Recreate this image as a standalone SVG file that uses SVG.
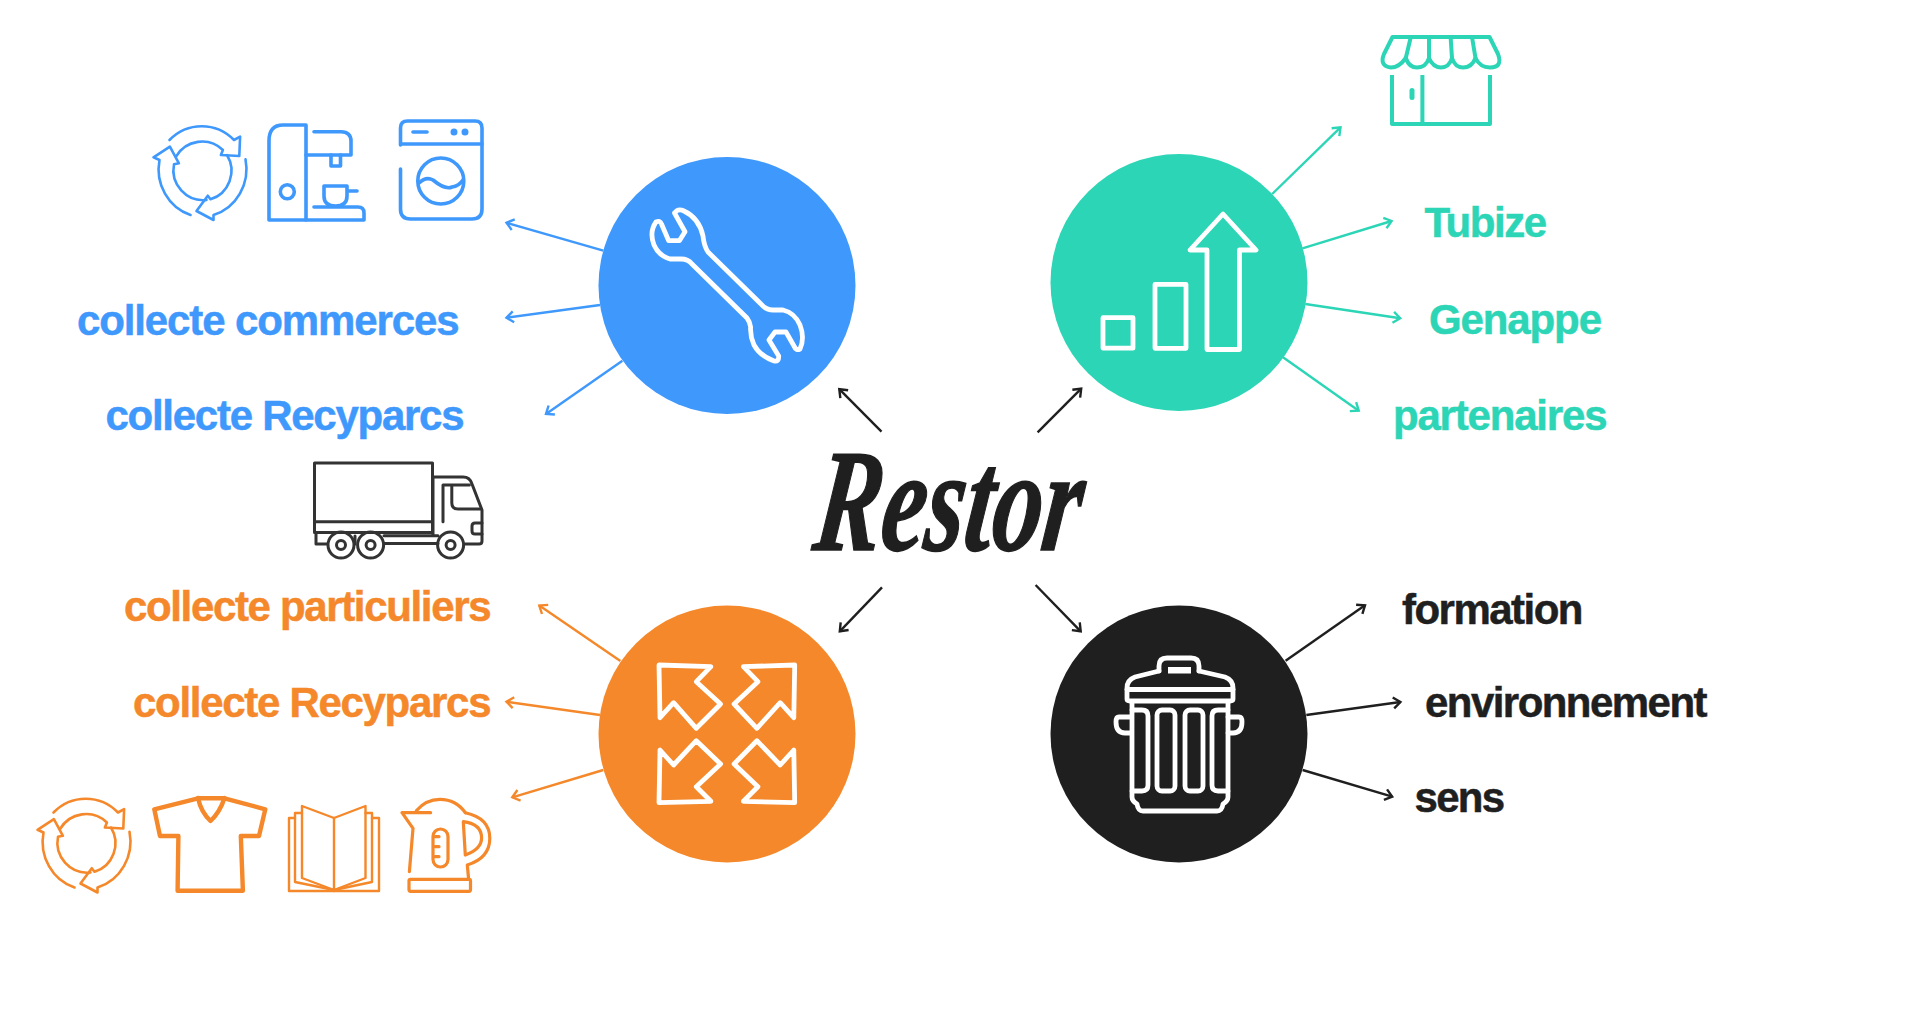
<svg xmlns="http://www.w3.org/2000/svg" xmlns:xlink="http://www.w3.org/1999/xlink" width="1920" height="1020" viewBox="0 0 1920 1020">
<style>
text{font-family:"Liberation Sans",Arial,sans-serif;font-weight:700;font-size:42px;stroke-width:.5}
.blue{fill:#3f98fc}.green{fill:#2cd5b6}.orange{fill:#f4882a}.black{fill:#1f1f1f}
text.blue{stroke:#3f98fc}text.green{stroke:#2cd5b6}text.orange{stroke:#f4882a}text.black{stroke:#1f1f1f}
.i{fill:none;stroke-linecap:round;stroke-linejoin:round}
.w{stroke:#fff;stroke-width:4.8}
.c{fill:none;stroke-width:2.4}
text.logo{font-family:"Liberation Serif","Times New Roman",serif;font-style:italic;font-size:146px;fill:#1f1f1f;stroke:#1f1f1f;stroke-width:1.5}
</style>
<defs>
<marker id="mb" markerUnits="userSpaceOnUse" markerWidth="16" markerHeight="16" refX="12" refY="8" orient="auto"><path d="M5 2.5L12 8L5 13.5" fill="none" stroke="#3f98fc" stroke-width="2.4"/></marker>
<marker id="mg" markerUnits="userSpaceOnUse" markerWidth="16" markerHeight="16" refX="12" refY="8" orient="auto"><path d="M5 2.5L12 8L5 13.5" fill="none" stroke="#2cd5b6" stroke-width="2.4"/></marker>
<marker id="mo" markerUnits="userSpaceOnUse" markerWidth="16" markerHeight="16" refX="12" refY="8" orient="auto"><path d="M5 2.5L12 8L5 13.5" fill="none" stroke="#f4882a" stroke-width="2.4"/></marker>
<marker id="mk" markerUnits="userSpaceOnUse" markerWidth="16" markerHeight="16" refX="12" refY="8" orient="auto"><path d="M5 2.5L12 8L5 13.5" fill="none" stroke="#1f1f1f" stroke-width="2.4"/></marker>
<g id="recycle">
<path d="M-32 -31A46 48 0 0 1 32.5 -31L38.6 -34.3L37.8 -15L19.4 -16L21.4 -21A30 30 0 0 0 -25.5 -14.3"/>
<path d="M-11 44A46 48 0 0 1 -42 -11L-48 -13.7L-31.6 -24.3L-22.6 -7.7L-27.5 -6.7A30 30 0 0 0 5 29"/>
<path d="M44 -11.7A46 48 0 0 1 12 44L12 49L-5 40L6.3 24.7L9 28.3A30 30 0 0 0 25.5 -16"/>
</g>
</defs>
<rect width="1920" height="1020" fill="#fff"/>

<g id="connectors">
<g class="c" stroke="#3f98fc">
<path d="M603.3 250.7L506.5 222.7" marker-end="url(#mb)"/>
<path d="M600 305L506.5 317.7" marker-end="url(#mb)"/>
<path d="M622.4 360.7L546 414" marker-end="url(#mb)"/>
</g>
<g class="c" stroke="#2cd5b6">
<path d="M1272.2 194L1340.5 127.3" marker-end="url(#mg)"/>
<path d="M1302.4 248.3L1391.6 221" marker-end="url(#mg)"/>
<path d="M1305.3 304L1400.2 318.3" marker-end="url(#mg)"/>
<path d="M1283 357.3L1358.7 410.7" marker-end="url(#mg)"/>
</g>
<g class="c" stroke="#f4882a">
<path d="M620.4 661L539.3 605.5" marker-end="url(#mo)"/>
<path d="M600 715L506.5 701.7" marker-end="url(#mo)"/>
<path d="M603.3 770L512.3 797.3" marker-end="url(#mo)"/>
</g>
<g class="c" stroke="#1f1f1f">
<path d="M1285.6 660.7L1365 605.3" marker-end="url(#mk)"/>
<path d="M1306.3 715L1400.4 702" marker-end="url(#mk)"/>
<path d="M1302.6 770L1392.2 796.7" marker-end="url(#mk)"/>
<path d="M881.5 431.7L839.3 389.2" marker-end="url(#mk)"/>
<path d="M1037.6 432.3L1081.2 388.7" marker-end="url(#mk)"/>
<path d="M882 587.3L839.8 631.3" marker-end="url(#mk)"/>
<path d="M1035.6 585L1080.7 631.3" marker-end="url(#mk)"/>
</g>
</g>

<g id="center"><text class="logo" transform="translate(811 550) skewX(-7) scale(.685 1)">Restor</text></g>

<g id="node-blue">
<circle class="blue" cx="727" cy="285.5" r="128.5"/>
<path class="i w" d="M674.5 213Q678 208 684 211Q699 218 703 236Q704 246 708 252L761 304Q766 310 773 310L783 310Q795 313 800 325Q805 338 800 349Q796 351 794 346L786 332L775 332L769 340L778.7 356Q779 362 774 361Q760 356 754 345Q750 336 750.6 327Q750 322 747 318L692 264Q688 259 681 259L670 259Q659 256 654 245Q649 232 656 222Q660 220 661.5 224L668.7 240.7L679.4 240.7L685 231.7Z"/>
</g>
<g id="node-blue-labels">
<text class="blue" x="77" y="334.8" textLength="382.5">collecte commerces</text>
<text class="blue" x="105.5" y="430" textLength="359">collecte Recyparcs</text>
</g>
<g id="icon-recycle-blue" class="i" stroke="#3f98fc" stroke-width="2.6"><use xlink:href="#recycle" href="#recycle" transform="translate(201.5 171)"/></g>
<g id="icon-coffee" class="i" stroke="#3f98fc" stroke-width="3.6">
<path d="M306 125L283 125Q269 125 269 141L269 220L306 220Z"/>
<path d="M306 220L364 220L364 213Q364 207 358 207L314 207"/>
<path d="M314 131.7L341 131.7Q351 132 351 141L351 155L306 155"/>
<path d="M331 155L331 166L340.5 166L340.5 155"/>
<circle cx="287.3" cy="191.7" r="7"/>
<path d="M324 186L347 186L347 196Q347 206 335.5 206Q324 206 324 196Z"/>
<path d="M348 191L357 191"/>
</g>
<g id="icon-washer" class="i" stroke="#3f98fc" stroke-width="3.6">
<path d="M400.5 145L400.5 128Q400.5 121 407.5 121L475 121Q482 121 482 128L482 209Q482 219 472 219L410.5 219Q400.5 219 400.5 209L400.5 169"/>
<path d="M401 144L482 144"/>
<path d="M413 132L427 132"/>
<circle cx="454" cy="132" r="1.7"/><circle cx="465" cy="132" r="1.7"/>
<circle cx="440.8" cy="181" r="23"/>
<path d="M419 183Q426 176 433 180Q445 190 452 187Q459 186 463 180"/>
</g>

<g id="node-green">
<circle class="green" cx="1179" cy="282.5" r="128.5"/>
<g class="i w">
<rect x="1103" y="317.7" width="30" height="30.5"/>
<rect x="1155" y="284.3" width="31" height="64"/>
<path d="M1207 349.5L1207 250L1190 250L1223 214L1256 250L1239.5 250L1239.5 349.5Z"/>
</g>
</g>
<g id="node-green-labels">
<text class="green" x="1424.5" y="237.3" textLength="122.6">Tubize</text>
<text class="green" x="1429" y="334" textLength="173">Genappe</text>
<text class="green" x="1393" y="430" textLength="214.5">partenaires</text>
</g>
<g id="icon-store" class="i" stroke="#2cd5b6" stroke-width="4">
<path d="M1392.5 37L1489.5 37L1498 54Q1503 67.5 1490 67.5Q1480 67.5 1475.5 58Q1472 67.5 1463 67.5Q1455 67.5 1452 58Q1449 67.5 1441 67.5Q1433 67.5 1429 58Q1426 67.5 1417 67.5Q1409 67.5 1405.8 58Q1399 67.5 1391 67.5Q1379 66 1384 54Z"/>
<path d="M1410.8 37L1405.8 58M1429 37L1429 58M1450.6 37L1452 58M1472 37L1475.5 58"/>
<path d="M1392 75L1392 124L1490 124L1490 75M1422.4 75L1422.4 124" stroke-linecap="butt"/>
<path d="M1412 90.5L1412 97.5" stroke-width="5"/>
</g>

<g id="node-orange">
<circle class="orange" cx="727" cy="734" r="128.5"/>
<g class="i w">
<path d="M659 665L710.9 666.7L696.3 681.7L720.6 704L696.3 728.3L673.6 702.7L660 717.7Z"/>
<path d="M794.7 665L743.4 666.7L757.9 681.7L734.1 704L756.9 728.3L780.2 702.7L793.8 717.7Z"/>
<path d="M659 802.7L710.9 801.3L696.3 786.7L720.6 764L696.3 740.7L673.6 765L660 750Z"/>
<path d="M794.7 802.7L743.4 801.3L757.9 786.7L734.1 764L756.9 740.7L780.2 765L793.8 750Z"/>
</g>
</g>
<g id="node-orange-labels">
<text class="orange" x="124" y="621" textLength="367.5">collecte particuliers</text>
<text class="orange" x="133" y="716.7" textLength="358.5">collecte Recyparcs</text>
</g>
<g id="icon-truck" class="i" stroke="#333" stroke-width="3">
<rect x="314.5" y="463" width="118" height="69.5"/>
<path d="M314.5 521.7L432.5 521.7"/>
<path d="M316 533L316 544L327 544M355 536L355 544M384 535.7L438 535.7M384 543.5L438 543.5"/>
<path d="M433 477L463 477Q470 477 472 484L482 510L482 541Q482 544 479 544L465 544M433 477L433 535"/>
<path d="M443 521.7L443 485L469.4 485M451.8 486.7L451.8 503Q452 509 458 509L481 509"/>
<path d="M482 523L475 523Q472 523 472 526L472 531Q472 534 475 534L482 534"/>
<circle cx="341" cy="545" r="13"/><circle cx="341" cy="545" r="4.5"/>
<circle cx="370.6" cy="545" r="13"/><circle cx="370.6" cy="545" r="4.5"/>
<circle cx="450.6" cy="545" r="13"/><circle cx="450.6" cy="545" r="4.5"/>
</g>
<g id="icon-recycle-orange" class="i" stroke="#f4882a" stroke-width="2.6"><use xlink:href="#recycle" href="#recycle" transform="translate(85.5 843.5)"/></g>
<g id="icon-shirt" class="i" stroke="#f4882a" stroke-width="4.4">
<path d="M198 798.3L224.5 798.3L265.3 809.3L259 836L240.8 836L242.9 890.7L177.6 890.7L178.4 836L160 836L154.3 809.3Z"/>
<path d="M198 798Q201 812 210.5 821Q220 812 224.5 798"/>
</g>
<g id="icon-book" class="i" stroke="#f4882a" stroke-width="2.4">
<path d="M302 806L334 818L365.5 806L365.5 878L334 890L302 878Z"/>
<path d="M334 818L334 891"/>
<path d="M302 813L295 813L295 882L334 890L372 882L372 813L365.5 813"/>
<path d="M295 818L289 818L289 891L379 891L379 818L372 818"/>
</g>
<g id="icon-kettle" class="i" stroke="#f4882a" stroke-width="3.2">
<path d="M402 812.7L430.6 812.7M402 812.7L413 828.3L409.4 871.7"/>
<path d="M416.3 810.7Q426 799.3 440 799.3Q456 799.3 465.3 812.7"/>
<path d="M465.3 812.7Q489.8 818 489.8 838.3Q489.8 858 467.3 865L468.6 879"/>
<path d="M463.3 821.7Q481.6 824 481.6 838Q481.6 849 465.3 855Z"/>
<rect x="409" y="879.3" width="61.5" height="12" rx="1.5"/>
<rect x="433" y="829" width="15" height="38" rx="7.5"/>
<path d="M435 836.7L439 836.7M435 846.7L439 846.7M435 856.7L439 856.7"/>
</g>

<g id="node-black">
<circle class="black" cx="1179" cy="734" r="128.5"/>
<g class="i w">
<path d="M1159 671L1159 666Q1159 658 1167 658L1191 658Q1199 658 1199 666L1199 671"/>
<path d="M1159 671L1135 677Q1127 680 1127 688L1127 699Q1127 701 1130 701L1230 701Q1233 701 1233 699L1233 688Q1233 680 1225 677L1199 671"/>
<path d="M1127 689.5L1233 689.5"/>
<path d="M1132 703L1132 797Q1132 801 1137 804Q1138 811 1143 811L1217 811Q1222 811 1223 804Q1228 801 1228 797L1228 703"/>
<path d="M1132 710L1142 710Q1148 710 1148 716L1148 785Q1148 791 1142 791L1132 791"/>
<path d="M1228 710L1218 710Q1212 710 1212 716L1212 785Q1212 791 1218 791L1228 791"/>
<rect x="1157" y="710" width="18" height="81" rx="5"/>
<rect x="1185" y="710" width="18" height="81" rx="5"/>
<path d="M1130 717L1119 717Q1116 717 1116 722Q1116 733 1125 733L1130 733"/>
<path d="M1228 717L1239 717Q1242 717 1242 722Q1242 733 1233 733L1228 733"/>
</g>
<rect x="1168" y="667" width="23" height="6.5" fill="#fff"/>
</g>
<g id="node-black-labels">
<text class="black" x="1402" y="624" textLength="181.5">formation</text>
<text class="black" x="1425" y="716.7" textLength="282.5">environnement</text>
<text class="black" x="1414.5" y="811.7" textLength="90.7">sens</text>
</g>
</svg>
